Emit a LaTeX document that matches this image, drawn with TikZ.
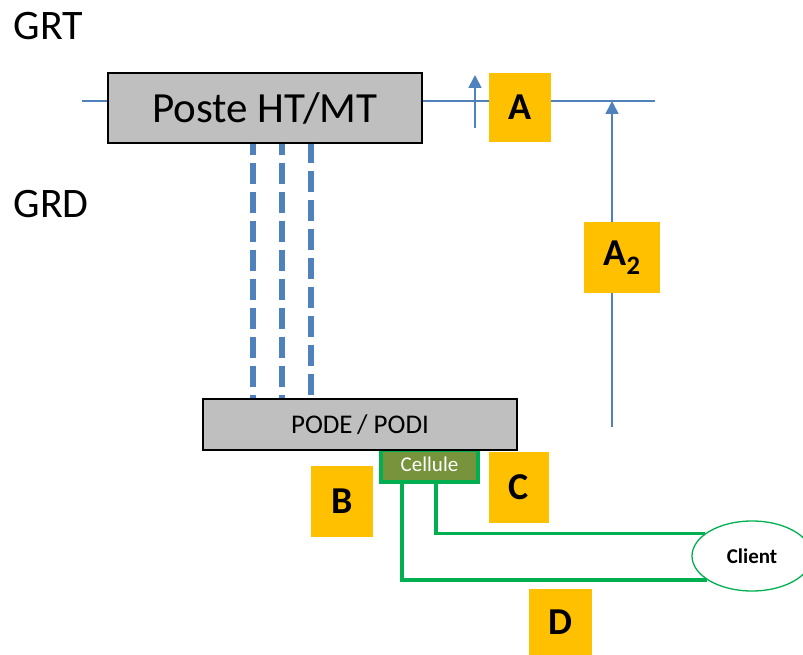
\documentclass[tikz,border=0pt]{standalone}
\usepackage{fontspec}
\setmainfont{Carlito}
\usepackage{tikz}
\usetikzlibrary{shapes.geometric, arrows.meta, positioning}

\definecolor{boxgray}{RGB}{191,191,191}
\definecolor{tagorange}{RGB}{255,192,0}
\definecolor{linkblue}{RGB}{79,129,189}
\definecolor{cellgreen}{RGB}{0,176,80}
\definecolor{cellolive}{RGB}{119,147,60}

\tikzset{
    poste/.style={draw=black, line width=1.2pt, fill=boxgray, inner sep=0pt},
    tag/.style={fill=tagorange, inner sep=0pt, font=\fontsize{38}{40}\selectfont\bfseries},
    net/.style={font=\fontsize{42}{44}\selectfont},
    bus/.style={linkblue, line width=1.6pt},
    meas/.style={linkblue, line width=1.6pt, -{Triangle[length=13pt, width=13pt]}},
    feeder/.style={linkblue, line width=6.5pt, dash pattern=on 21.5pt off 7.5pt},
    cable/.style={cellgreen, line width=3.2pt}
}

\begin{document}
\begin{tikzpicture}[x=1pt, y=-1pt]
    \useasboundingbox (0,0) rectangle (803,655);

    % reseau
    \node[net, anchor=base west] (GRT) at (10,40) {GRT};
    \node[net, anchor=base west] (GRD) at (10,218) {GRD};

    \coordinate (busL) at (82,101);
    \coordinate (busR) at (655,101);
    \draw[bus] (busL) -- (busR);

    % postes
    \node[poste, minimum width=314pt, minimum height=70pt, font=\fontsize{43}{45}\selectfont] (Poste) at (265,108) {Poste HT/MT};
    \foreach \x/\ph in {253/10, 282/10, 311/2}
        \draw[feeder, dash phase=\ph pt] (Poste.south -| \x,0) -- (\x,399);
    \node[draw=cellgreen, line width=4pt, fill=cellolive, minimum width=97pt, minimum height=32pt, inner sep=0pt,
          text=white, font=\fontsize{21}{23}\selectfont] (Cell) at (429.5,466) {\raisebox{3pt}{Cellule}};
    \node[poste, minimum width=314pt, minimum height=51pt, font=\fontsize{27}{29}\selectfont] (PODE) at (360,424.5) {PODE\,/ PODI};

    % client
    \node[ellipse, draw=cellgreen, line width=1.3pt, fill=white, minimum width=120pt, minimum height=70pt, inner sep=0pt,
          font=\fontsize{21}{23}\selectfont\bfseries] (Client) at (752,556) {Client};
    \draw[cable] (Cell.south -| 436,0) |- (Client.154);
    \draw[cable] (Cell.south -| 402,0) |- (Client.208);

    % mesures
    \coordinate (m1) at (475,128);
    \coordinate (m1t) at (475,75);
    \draw[meas] (m1) -- (m1t);
    \coordinate (m2) at (612,427);
    \draw[meas] (m2) -- (busR -| m2);

    % reperes
    \node[tag, minimum width=62pt, minimum height=69pt] (A) at (520,107.5) {A};
    \node[tag, minimum width=76pt, minimum height=71pt] (A2) at (622,257.5) {A\textsubscript{2}};
    \node[tag, minimum width=62pt, minimum height=71pt] (B) at (342,501.5) {B};
    \node[tag, minimum width=60pt, minimum height=71pt] (C) at (519,487.5) {C};
    \node[tag, minimum width=63pt, minimum height=66pt] (D) at (560.5,622) {D};
\end{tikzpicture}
\end{document}
